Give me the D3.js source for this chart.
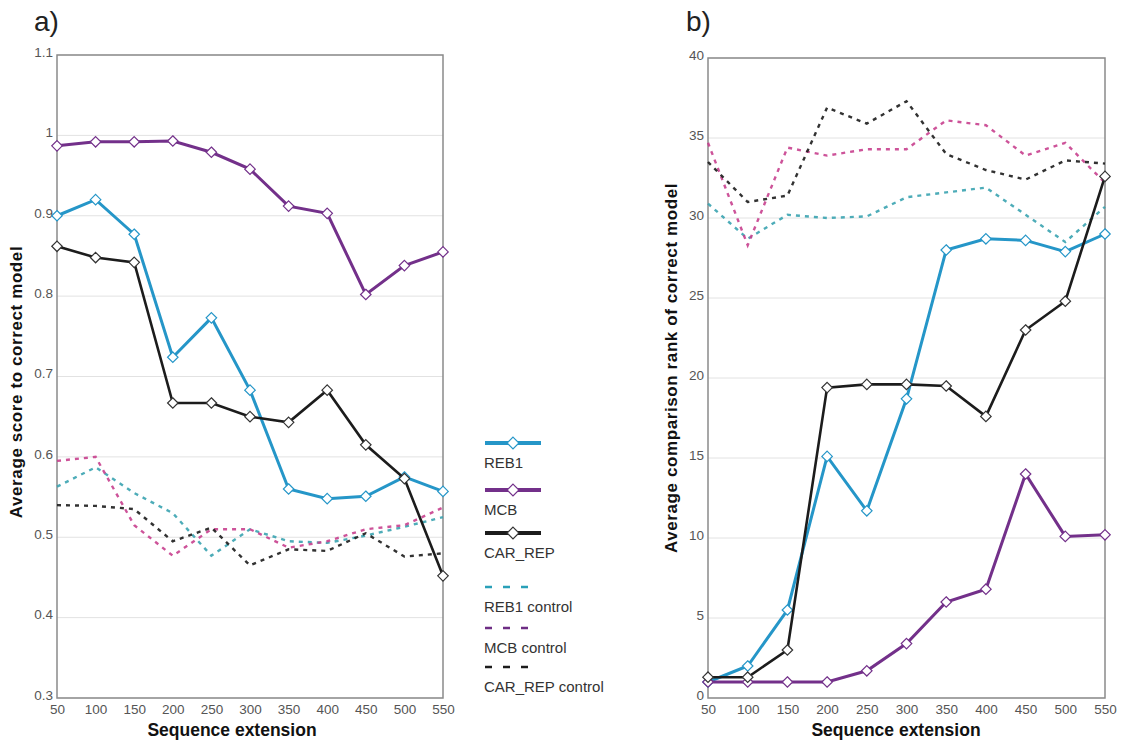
<!DOCTYPE html>
<html>
<head>
<meta charset="utf-8">
<script src="https://cdn.jsdelivr.net/npm/d3@7"></script>
<style>
  body { margin: 0; background: #fff; }
  svg { font-family: "Liberation Sans", Arial, sans-serif; }
</style>
</head>
<body>
<div id="chart"></div>
<script>
var ext = [50, 100, 150, 200, 250, 300, 350, 400, 450, 500, 550];

// panel a) average score to correct model
var scoreReb1 = [0.900, 0.920, 0.877, 0.724, 0.773, 0.683, 0.560, 0.548, 0.551, 0.575, 0.557];
var scoreMcb = [0.987, 0.992, 0.992, 0.993, 0.979, 0.958, 0.912, 0.903, 0.802, 0.838, 0.855];
var scoreCar = [0.862, 0.848, 0.842, 0.667, 0.667, 0.650, 0.643, 0.683, 0.615, 0.573, 0.452];
var scoreReb1Ctrl = [0.563, 0.587, 0.555, 0.530, 0.477, 0.510, 0.495, 0.493, 0.502, 0.513, 0.525];
var scoreMcbCtrl = [0.595, 0.600, 0.515, 0.477, 0.510, 0.510, 0.487, 0.495, 0.510, 0.515, 0.537];
var scoreCarCtrl = [0.540, 0.539, 0.535, 0.495, 0.512, 0.465, 0.485, 0.483, 0.505, 0.476, 0.480];

// panel b) average comparison rank of correct model
var rankReb1 = [1.0, 2.0, 5.5, 15.1, 11.7, 18.7, 28.0, 28.7, 28.6, 27.9, 29.0];
var rankMcb = [1.0, 1.0, 1.0, 1.0, 1.7, 3.4, 6.0, 6.8, 14.0, 10.1, 10.2];
var rankCar = [1.3, 1.3, 3.0, 19.4, 19.6, 19.6, 19.5, 17.6, 23.0, 24.8, 32.6];
var rankReb1Ctrl = [30.9, 28.7, 30.2, 30.0, 30.1, 31.3, 31.6, 31.9, 30.2, 28.5, 30.7];
var rankMcbCtrl = [34.7, 28.3, 34.4, 33.9, 34.3, 34.3, 36.1, 35.8, 33.9, 34.7, 32.2];
var rankCarCtrl = [33.5, 31.0, 31.4, 36.9, 35.9, 37.3, 34.0, 33.0, 32.4, 33.6, 33.4];

var scoreTicks = [0.3, 0.4, 0.5, 0.6, 0.7, 0.8, 0.9, 1, 1.1];
var rankTicks = [0, 5, 10, 15, 20, 25, 30, 35, 40];

var names = ["REB1", "MCB", "CAR_REP", "REB1 control", "MCB control", "CAR_REP control"];
var colors = ["#2596c8", "#73308a", "#1c1c1c", "#3aa3b0", "#c8408e", "#1c1c1c"];
var legendColors = ["#2596c8", "#73308a", "#1c1c1c", "#2aa0b8", "#6e2d84", "#1c1c1c"];

var W = 1121, H = 744;
var svg = d3.select("#chart").append("svg")
    .attr("width", W).attr("height", H);

function drawPanel(opt) {
    var x = d3.scaleLinear().domain([50, 550]).range([opt.left, opt.right]);
    var y = d3.scaleLinear().domain(opt.domain).range([opt.bottom, opt.top]);
    var g = svg.append("g");

    // grid
    g.selectAll(".grid").data(opt.ticks).join("line")
        .attr("x1", opt.left).attr("x2", opt.right)
        .attr("y1", d => y(d)).attr("y2", d => y(d))
        .attr("stroke", "#e2e2e2").attr("stroke-width", 1);

    // frame
    g.append("rect")
        .attr("x", opt.left).attr("y", opt.top)
        .attr("width", opt.right - opt.left).attr("height", opt.bottom - opt.top)
        .attr("fill", "none").attr("stroke", "#8a8a8a").attr("stroke-width", 1.5);

    // axes (labels only)
    var yAxis = g.append("g").attr("transform", "translate(" + opt.left + ",0)")
        .call(d3.axisLeft(y).tickValues(opt.ticks).tickSize(0).tickPadding(4).tickFormat(d3.format("~g")));
    var xAxis = g.append("g").attr("transform", "translate(0," + opt.bottom + ")")
        .call(d3.axisBottom(x).tickValues(ext).tickSize(0).tickPadding(6));
    [yAxis, xAxis].forEach(a => {
        a.select(".domain").remove();
        a.selectAll("text").attr("fill", "#555").style("font-size", "13.5px")
            .style("font-family", "'Liberation Sans', Arial, sans-serif");
    });
    yAxis.selectAll("text").attr("dy", "0.1em");

    var line = d3.line().x((d, i) => x(ext[i])).y(d => y(d));

    // controls (dashed)
    opt.ctrl.forEach((s, k) => {
        g.append("path").datum(s)
            .attr("d", line)
            .attr("fill", "none")
            .attr("stroke", colors[k + 3])
            .attr("stroke-width", 2.4)
            .attr("stroke-dasharray", "4,5")
            .attr("opacity", 0.9);
    });

    // main series
    opt.main.forEach((s, k) => {
        g.append("path").datum(s)
            .attr("d", line)
            .attr("fill", "none")
            .attr("stroke", colors[k])
            .attr("stroke-width", k === 2 ? 2.6 : 3);
        g.selectAll(".pt" + k).data(s).join("path")
            .attr("d", d3.symbol(d3.symbolDiamond2, 70))
            .attr("transform", (d, i) => "translate(" + x(ext[i]) + "," + y(d) + ")")
            .attr("fill", "#fff")
            .attr("stroke", k === 2 ? "#333" : colors[k])
            .attr("stroke-width", 1.2);
    });

    // titles
    svg.append("text")
        .attr("x", opt.xtx).attr("y", 736)
        .attr("text-anchor", "middle")
        .style("font-size", "17.5px").style("font-weight", "bold")
        .attr("fill", "#111")
        .text("Sequence extension");
    svg.append("text")
        .attr("transform", "translate(" + opt.ytx + "," + opt.yty + ") rotate(-90)")
        .attr("text-anchor", "middle")
        .style("font-size", "17px").style("font-weight", "bold")
        .style("letter-spacing", "0.6px")
        .attr("fill", "#111")
        .text(opt.ytitle);
    svg.append("text")
        .attr("x", opt.lx).attr("y", 31)
        .style("font-size", "28px")
        .attr("fill", "#222")
        .text(opt.label);
}

drawPanel({
    left: 57, right: 443, top: 55, bottom: 698,
    domain: [0.3, 1.1], ticks: scoreTicks,
    main: [scoreReb1, scoreMcb, scoreCar],
    ctrl: [scoreReb1Ctrl, scoreMcbCtrl, scoreCarCtrl],
    ytitle: "Average score to correct model", ytx: 22, yty: 382, xtx: 232,
    label: "a)", lx: 34
});

drawPanel({
    left: 708, right: 1105, top: 58, bottom: 698,
    domain: [0, 40], ticks: rankTicks,
    main: [rankReb1, rankMcb, rankCar],
    ctrl: [rankReb1Ctrl, rankMcbCtrl, rankCarCtrl],
    ytitle: "Average comparison rank of correct model", ytx: 677, yty: 368, xtx: 896,
    label: "b)", lx: 686
});

// legend
var legY = [443, 490, 533, 587, 628, 667];
var leg = svg.append("g");
names.forEach((n, k) => {
    var yy = legY[k];
    leg.append("line")
        .attr("x1", 485).attr("x2", k < 3 ? 541 : 531).attr("y1", yy).attr("y2", yy)
        .attr("stroke", legendColors[k])
        .attr("stroke-width", k < 3 ? 4 : 2.6)
        .attr("stroke-dasharray", k < 3 ? null : "7,11");
    if (k < 3) {
        leg.append("path")
            .attr("d", d3.symbol(d3.symbolDiamond2, 90))
            .attr("transform", "translate(513," + yy + ")")
            .attr("fill", "#fff")
            .attr("stroke", k === 2 ? "#333" : colors[k])
            .attr("stroke-width", 1.2);
    }
    leg.append("text")
        .attr("x", 484).attr("y", yy + 25)
        .style("font-size", "15px")
        .attr("fill", "#333")
        .text(n);
});
</script>
</body>
</html>
